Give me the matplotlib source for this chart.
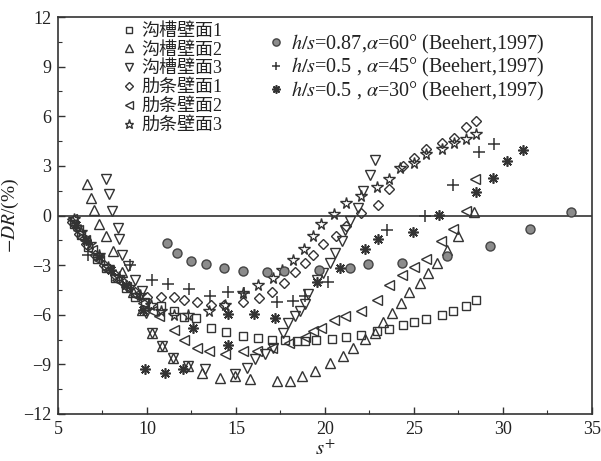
import matplotlib
matplotlib.use("Agg")
import matplotlib.pyplot as plt
from matplotlib.ticker import MultipleLocator

plt.rcParams['font.family'] = ['Liberation Serif', 'Noto Sans CJK SC', 'DejaVu Sans']
plt.rcParams['mathtext.fontset'] = 'stix'

# ---- data ----
sq_x = [5.9, 6.3, 6.7, 7.2, 7.7, 8.2, 8.8, 9.3, 9.9, 10.8, 11.5, 12.1, 12.75, 13.6, 14.45, 15.4, 16.25,
        17.0, 17.75, 18.4, 18.9, 19.5, 20.4, 21.2, 22.0, 22.9, 23.6, 24.4, 25.0, 25.7, 26.6, 27.2, 27.9, 28.5]
sq_y = [-0.5, -1.2, -1.9, -2.6, -3.2, -3.8, -4.4, -4.9, -5.2, -5.5, -5.8, -6.15, -6.2, -6.8, -7.05, -7.28, -7.42,
        -7.5, -7.55, -7.57, -7.57, -7.53, -7.45, -7.33, -7.2, -7.0, -6.85, -6.65, -6.45, -6.25, -6.0, -5.8, -5.5, -5.1]

tu_x = [6.61, 6.83, 7.04, 7.30, 7.70, 8.09, 8.6, 9.2, 9.7, 10.26, 10.83, 11.48, 12.32, 13.1, 14.10, 14.94, 15.79,
        17.28, 18.03, 18.69, 19.44, 20.28, 21.03, 21.56, 22.25, 22.81, 23.28, 23.74, 24.25, 24.74, 25.34, 25.80,
        26.28, 26.84, 27.49, 28.37]
tu_y = [1.93, 1.07, 0.36, -0.54, -1.25, -2.16, -3.4, -4.6, -5.7, -7.09, -7.9, -8.6, -9.1, -9.5, -9.81, -9.71, -9.91,
        -10.01, -10.01, -9.71, -9.41, -8.90, -8.50, -7.99, -7.49, -7.09, -6.45, -5.88, -5.28, -4.63, -4.07, -3.50,
        -2.90, -2.11, -1.21, 0.20]

td_x = [7.70, 7.89, 8.03, 8.37, 8.43, 8.62, 8.93, 9.33, 9.72, 9.95, 10.26, 10.83, 11.48, 12.32, 13.26, 14.94, 15.6,
        16.07, 16.63, 17.1, 17.66, 17.94, 18.31, 18.6, 18.88, 19.06, 19.53, 19.90, 20.28, 20.56, 20.94, 21.12,
        21.40, 21.87, 22.15, 22.53, 22.81]
td_y = [2.21, 1.30, 0.30, -0.73, -1.39, -2.36, -3.08, -3.87, -4.59, -5.9, -7.09, -7.9, -8.6, -9.1, -9.3, -9.6, -9.2,
        -8.7, -8.4, -8.0, -7.09, -6.48, -6.08, -5.78, -5.38, -4.77, -3.87, -3.46, -2.86, -2.25, -1.55, -0.85,
        -0.34, 0.47, 1.47, 2.48, 3.34]

dm_x = [5.8, 6.2, 6.6, 7.1, 7.6, 8.2, 8.7, 9.3, 10.0, 10.8, 11.5, 12.1, 12.8, 13.6, 14.3, 15.4, 16.3, 17.0, 17.7,
        18.3, 18.9, 19.3, 19.9, 20.6, 21.2, 22.0, 23.0, 23.6, 24.4, 25.0, 25.7, 26.6, 27.25, 27.9, 28.5]
dm_y = [-0.4, -1.1, -1.7, -2.4, -3.0, -3.6, -4.1, -4.6, -4.9, -4.9, -4.9, -5.1, -5.2, -5.4, -5.4, -5.2, -5.0, -4.6,
        -4.1, -3.4, -2.9, -2.4, -1.75, -1.25, -0.65, 0.16, 0.66, 1.6, 3.0, 3.5, 4.0, 4.4, 4.7, 5.35, 5.7]

lt_x = [5.8, 6.1, 6.5, 6.9, 7.3, 7.8, 8.3, 8.8, 9.3, 9.8, 10.3, 10.7, 11.5, 12.1, 12.8, 13.5, 14.4, 15.4, 16.2,
        17.0, 18.0, 18.9, 19.35, 19.8, 20.5, 21.15, 22.0, 22.9, 23.6, 24.3, 25.0, 25.7, 26.5, 27.2, 27.9, 28.4]
lt_y = [-0.2, -0.9, -1.5, -2.1, -2.7, -3.3, -3.9, -4.3, -4.8, -5.3, -5.8, -6.1, -6.9, -7.5, -8.0, -8.2, -8.35, -8.2,
        -8.2, -8.0, -7.7, -7.35, -7.0, -6.8, -6.3, -6.1, -5.8, -5.1, -4.2, -3.6, -3.1, -2.6, -1.55, -0.8, 0.3, 2.2]

st_x = [5.9, 6.3, 6.8, 7.3, 7.8, 8.4, 9.0, 9.6, 10.2, 10.8, 11.5, 12.3, 13.5, 14.4, 15.4, 16.25, 17.06, 17.6, 18.2,
        18.8, 19.3, 19.8, 20.5, 21.2, 22.0, 22.9, 23.6, 24.2, 25.0, 25.7, 26.6, 27.25, 27.9, 28.5]
st_y = [-0.2, -1.0, -1.7, -2.4, -3.1, -3.7, -4.3, -4.8, -5.4, -5.8, -6.0, -6.0, -5.8, -5.4, -4.7, -4.2, -3.8, -3.3,
        -2.66, -2.05, -1.25, -0.54, 0.12, 0.77, 1.17, 1.71, 2.2, 2.85, 3.2, 3.7, 4.0, 4.4, 4.6, 4.9]

ci_x = [11.11, 11.67, 12.46, 13.34, 14.33, 15.37, 16.72, 17.67, 19.69, 21.40, 22.44, 24.31, 26.84, 29.27, 31.52, 33.80]
ci_y = [-1.69, -2.25, -2.72, -2.96, -3.16, -3.36, -3.41, -3.36, -3.30, -3.16, -2.96, -2.86, -2.46, -1.85, -0.79, 0.22]

pl_x = [6.7, 9.04, 10.26, 11.2, 12.38, 13.54, 14.57, 15.47, 17.28, 18.22, 18.88, 20.19, 23.48, 25.6, 27.19, 28.67, 29.48]
pl_y = [-2.4, -3.02, -3.87, -4.17, -4.43, -4.88, -4.61, -4.71, -5.24, -5.18, -4.88, -4.03, -0.87, -0.03, 1.83, 3.83, 4.35]

as_x = [6.0, 6.6, 7.3, 8.0, 8.8, 9.8, 9.9, 11.0, 12.0, 12.6, 14.57, 14.57, 16.0, 17.2, 19.57, 20.84, 22.25, 23.0,
        24.93, 26.42, 28.51, 29.42, 30.24, 31.14]
as_y = [-0.6, -1.5, -2.5, -3.3, -4.2, -5.7, -9.3, -9.55, -9.3, -6.8, -7.8, -5.95, -5.95, -6.2, -4.03, -3.16, -2.05,
        -1.45, -1.01, 0.06, 1.45, 2.28, 3.28, 3.99]

labels_a = ['沟槽壁面1', '沟槽壁面2', '沟槽壁面3', '肋条壁面1', '肋条壁面2', '肋条壁面3']
labels_b = [r'$h/s$=0.87,$\alpha$=60° (Beehert,1997)',
            r'$h/s$=0.5 , $\alpha$=45° (Beehert,1997)',
            r'$h/s$=0.5 , $\alpha$=30° (Beehert,1997)']

xticks = [5, 10, 15, 20, 25, 30, 35]
yticks = [-12, -9, -6, -3, 0, 3, 6, 9, 12]

# ---- figure ----
ink = '#333333'
fig = plt.figure(figsize=(6.01, 4.61), dpi=100)
ax = fig.add_axes([0.0965, 0.102, 0.8885, 0.861])

common = dict(linestyle='none', mfc='none', mec=ink, mew=1.0)
h_sq, = ax.plot(sq_x, sq_y, marker='s', ms=6.0, **common)
h_tu, = ax.plot(tu_x, tu_y, marker='^', ms=7.0, **common)
h_td, = ax.plot(td_x, td_y, marker='v', ms=7.0, **common)
h_dm, = ax.plot(dm_x, dm_y, marker='D', ms=5.5, **common)
h_lt, = ax.plot(lt_x, lt_y, marker='<', ms=7.0, **common)
h_st, = ax.plot(st_x, st_y, marker='*', ms=8.5, **common)
h_ci, = ax.plot(ci_x, ci_y, marker='o', ms=6.5, linestyle='none', mfc='#8c8c8c', mec='#444444', mew=1.0)
h_pl, = ax.plot(pl_x, pl_y, marker='+', ms=8.0, linestyle='none', mec=ink, mew=1.1)
h_as, = ax.plot(as_x, as_y, marker=(8, 2, 0), ms=7.5, linestyle='none', mec=ink, mew=1.2)

ax.axhline(0, color=ink, lw=1.2, zorder=1)

ax.set_xlim(5, 35)
ax.set_ylim(-12, 12)
ax.set_xticks(xticks)
ax.set_yticks(yticks)
ax.xaxis.set_minor_locator(MultipleLocator(2.5))
ax.yaxis.set_minor_locator(MultipleLocator(1.5))
ax.tick_params(which='both', direction='in', color=ink, labelsize=13, labelcolor='#222222')
ax.tick_params(which='major', length=5, width=1.0, pad=5)
ax.tick_params(which='minor', length=3, width=0.8)
for sp in ax.spines.values():
    sp.set_color(ink)
    sp.set_linewidth(1.2)

ax.set_ylabel(r'$-DR$/(%)', fontsize=14, color='#222222', labelpad=1)
ax.set_xlabel(r'$s^{+}$', fontsize=15, color='#222222', labelpad=2)

leg1 = ax.legend([h_sq, h_tu, h_td, h_dm, h_lt, h_st], labels_a, loc='upper left',
                 bbox_to_anchor=(0.12, 0.99), frameon=False, fontsize=13,
                 handlelength=0.6, handletextpad=0.35, labelspacing=0.1, borderpad=0.1,
                 borderaxespad=0.0, markerscale=0.8, labelcolor='#222222')
ax.add_artist(leg1)
ax.legend([h_ci, h_pl, h_as], labels_b, loc='upper left',
          bbox_to_anchor=(0.393, 0.965), frameon=False, fontsize=14.5,
          handlelength=0.6, handletextpad=0.45, labelspacing=0.02, borderpad=0.1,
          borderaxespad=0.0, markerscale=0.8, labelcolor='#222222')

fig.savefig('out.png', dpi=100)
